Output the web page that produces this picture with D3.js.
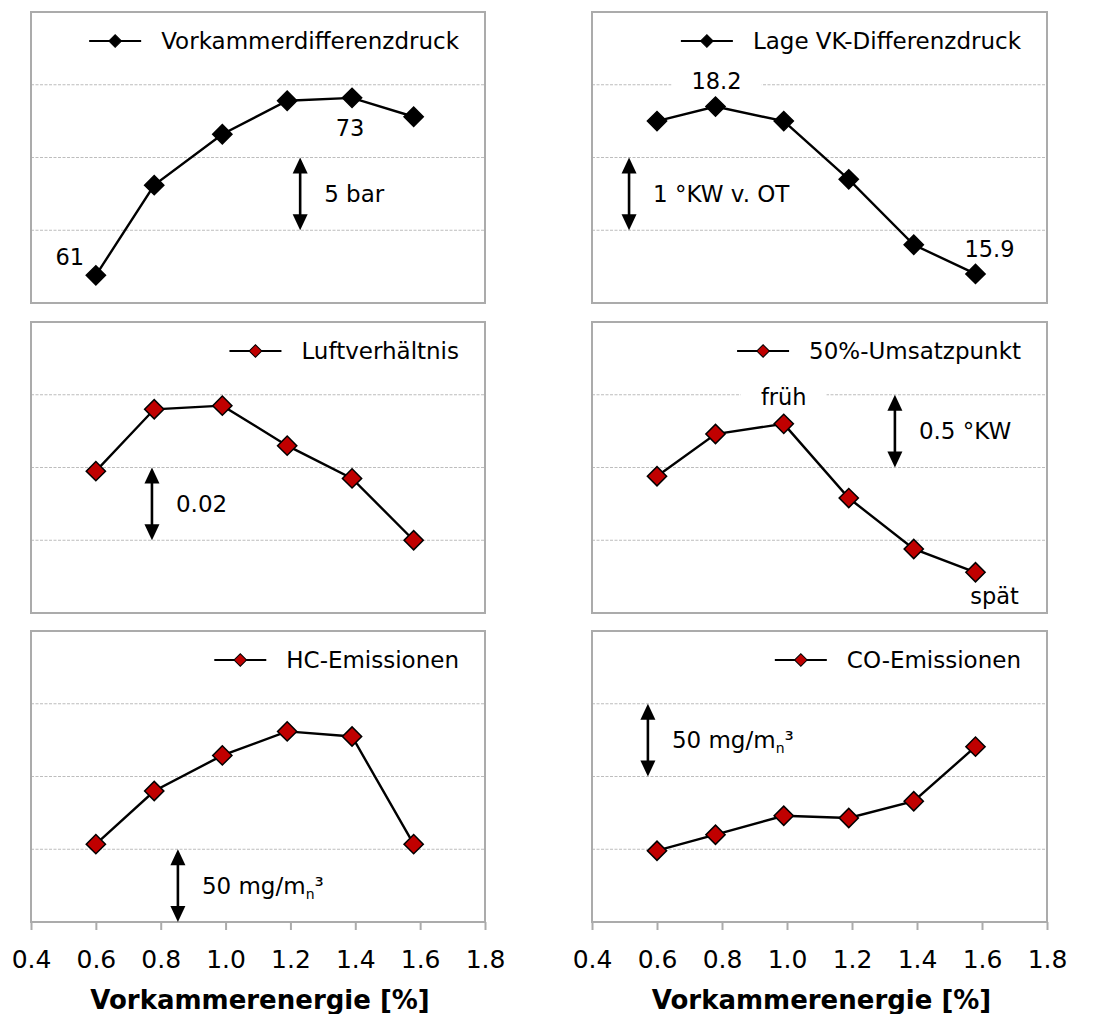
<!DOCTYPE html>
<meta charset="utf-8">
<body style="margin:0;background:#fff">
<div id="chart"></div>
<script src="https://cdnjs.cloudflare.com/ajax/libs/d3/7.8.5/d3.min.js"></script>
<script>

// x values (Vorkammerenergie in %)
var xValues = [0.6, 0.78, 0.99, 1.19, 1.39, 1.58];
var xTicks = [0.4, 0.6, 0.8, 1.0, 1.2, 1.4, 1.6, 1.8];

// series
var vkDruck = [61.0, 67.2, 70.7, 73.0, 73.2, 71.9];      // bar
var vkLage = [18.0, 18.2, 18.0, 17.2, 16.3, 15.9];       // °KW v. OT
var lambda = [1.739, 1.756, 1.757, 1.746, 1.737, 1.720];
var umsatz50 = [11.06, 10.77, 10.70, 11.21, 11.56, 11.72]; // °KW n. OT (früh oben)
var hcEm = [453.5, 490, 514.5, 531, 527.5, 453.5];        // mg/mn³
var coEm = [649, 660, 673, 671.5, 683, 720.5];            // mg/mn³

var seriesNames = ['Vorkammerdifferenzdruck', 'Lage VK-Differenzdruck', 'Luftverhältnis',
  '50%-Umsatzpunkt', 'HC-Emissionen', 'CO-Emissionen'];
var seriesValues = [vkDruck, vkLage, lambda, umsatz50, hcEm, coEm];
// y range (bottom, top) and step between the dashed grid lines
var yBottom = [59.1, 15.5, 1.70, 12.0, 400, 600];
var yStep = [5, 1, 0.02, -0.5, 50, 50];
var stepLabels = ['5 bar', '1 °KW v. OT', '0.02', '0.5 °KW', '50 mg/m', '50 mg/m'];
// where the scale arrow sits: x value and lower grid index
var arrowX = [1.23, 0.514, 0.773, 1.332, 0.853, 0.572];
var arrowFrom = [1, 1, 1, 2, 0, 2];

var xTitle = 'Vorkammerenergie [%]';

var width = 1100, height = 1014;
var colX = [31, 592], panelW = [454, 455];
var rowY = [12, 322, 631], panelH = 291;
var red = '#c00000';
var font = 'Verdana, "DejaVu Sans", sans-serif';

var svg = d3.select('#chart').append('svg')
  .attr('width', width)
  .attr('height', height)
  .style('font-family', font);

var diamond = d3.symbol().type(d3.symbolSquare);

seriesNames.forEach(function (name, i) {
  var col = i % 2, row = Math.floor(i / 2);
  var x0 = colX[col], y0 = rowY[row], w = panelW[col];
  var g = svg.append('g').attr('transform', 'translate(' + x0 + ',' + y0 + ')');

  var x = d3.scaleLinear().domain([0.4, 1.8]).range([0, w]);
  var y = d3.scaleLinear().domain([yBottom[i], yBottom[i] + 4 * yStep[i]]).range([panelH, 0]);
  var grid = [1, 2, 3].map(function (k) { return yBottom[i] + k * yStep[i]; });

  // dashed grid lines
  g.selectAll('.grid').data(grid).join('line')
    .attr('x1', 0).attr('x2', w)
    .attr('y1', function (d) { return y(d); })
    .attr('y2', function (d) { return y(d); })
    .attr('stroke', '#bdbdbd')
    .attr('stroke-width', 1)
    .attr('stroke-dasharray', '3,1.5');

  // frame
  g.append('rect')
    .attr('width', w).attr('height', panelH)
    .attr('fill', 'none')
    .attr('stroke', '#ababab')
    .attr('stroke-width', 2);

  // bottom row gets the x axis
  if (row == 2) {
    var ax = g.append('g')
      .attr('transform', 'translate(0,' + panelH + ')')
      .call(d3.axisBottom(x).tickValues(xTicks).tickSize(8).tickPadding(20).tickFormat(d3.format('.1f')));
    ax.select('.domain').remove();
    ax.selectAll('line').attr('stroke', '#ababab').attr('stroke-width', 2);
    ax.selectAll('text')
      .style('font-family', font)
      .style('font-size', '25px')
      .attr('fill', '#000');
    g.append('text')
      .attr('x', w / 2 + 2)
      .attr('y', panelH + 87)
      .attr('text-anchor', 'middle')
      .style('font-size', '26px')
      .style('font-weight', 'bold')
      .text(xTitle);
  }

  var pts = xValues.map(function (v, j) { return [v, seriesValues[i][j]]; });
  var isBlack = row == 0;

  // annotations with white background (drawn before the line)
  function label(txt, px, py, bg) {
    var t = g.append('text')
      .attr('x', px).attr('y', py)
      .attr('text-anchor', 'middle')
      .attr('dy', '0.35em')
      .style('font-size', '22.5px')
      .text(txt);
    if (bg) {
      var b = t.node().getBBox();
      g.insert('rect', function () { return t.node(); })
        .attr('x', b.x - 20).attr('y', b.y)
        .attr('width', b.width + 40).attr('height', b.height)
        .attr('fill', '#fff');
    }
  }
  var fmt0 = d3.format('.0f'), fmt1 = d3.format('.1f');
  if (i == 0) {
    label(fmt0(pts[0][1]), x(pts[0][0]) - 26, y(pts[0][1]) - 18);
    label(fmt0(pts[4][1]), x(pts[4][0]) - 2, y(pts[4][1]) + 30);
  }
  if (i == 1) {
    label(fmt1(pts[1][1]), x(pts[1][0]) + 1, y(pts[1][1]) - 25, true);
    label(fmt1(pts[5][1]), x(pts[5][0]) + 14, y(pts[5][1]) - 25);
  }
  if (i == 3) {
    label('früh', x(pts[2][0]), y(pts[2][1]) - 27, true);
    label('spät', x(pts[5][0]) + 19, y(pts[5][1]) + 24);
  }

  g.append('path')
    .datum(pts)
    .attr('fill', 'none')
    .attr('stroke', '#000')
    .attr('stroke-width', 2.4)
    .attr('d', d3.line().x(function (d) { return x(d[0]); }).y(function (d) { return y(d[1]); }));

  g.selectAll('.pt').data(pts).join('path')
    .attr('d', diamond.size(185))
    .attr('transform', function (d) { return 'translate(' + x(d[0]) + ',' + y(d[1]) + ') rotate(45)'; })
    .attr('fill', isBlack ? '#000' : red)
    .attr('stroke', '#000')
    .attr('stroke-width', 1.5);

  // scale arrow
  var ax0 = x(arrowX[i]);
  var ya = y(yBottom[i] + arrowFrom[i] * yStep[i]);
  var yb = y(yBottom[i] + (arrowFrom[i] + 1) * yStep[i]);
  var top = Math.min(ya, yb), bot = Math.max(ya, yb);
  g.append('line')
    .attr('x1', ax0).attr('x2', ax0)
    .attr('y1', top + 10).attr('y2', bot - 10)
    .attr('stroke', '#000').attr('stroke-width', 2.6);
  g.append('path')
    .attr('d', 'M' + ax0 + ',' + top + 'l7.5,16h-15z')
    .attr('fill', '#000');
  g.append('path')
    .attr('d', 'M' + ax0 + ',' + bot + 'l7.5,-16h-15z')
    .attr('fill', '#000');
  var st = g.append('text')
    .attr('x', ax0 + 24)
    .attr('y', (top + bot) / 2)
    .attr('dy', '0.35em')
    .style('font-size', '23px')
    .text(stepLabels[i]);
  if (i >= 4) {
    st.append('tspan').attr('dy', 5).style('font-size', '14px').text('n');
    st.append('tspan').attr('dy', -5).text('³');
  }

  // legend, top right
  var lt = g.append('text')
    .attr('x', w - 26)
    .attr('y', 29)
    .attr('dy', '0.35em')
    .attr('text-anchor', 'end')
    .style('font-size', '23px')
    .text(name);
  var tx = w - 26 - lt.node().getComputedTextLength();
  g.append('line')
    .attr('x1', tx - 72).attr('x2', tx - 20)
    .attr('y1', 29).attr('y2', 29)
    .attr('stroke', '#000').attr('stroke-width', 2);
  g.append('path')
    .attr('d', diamond.size(80))
    .attr('transform', 'translate(' + (tx - 46) + ',29) rotate(45)')
    .attr('fill', isBlack ? '#000' : red)
    .attr('stroke', '#000')
    .attr('stroke-width', 1);
});

</script>
</body>
